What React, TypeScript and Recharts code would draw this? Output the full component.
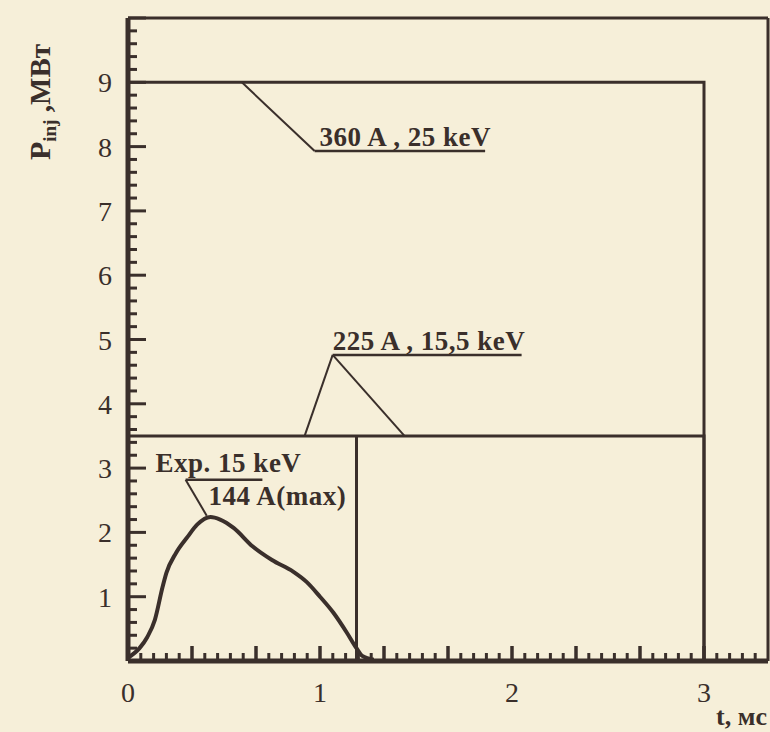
import React from 'react';
import { LineChart, Line, XAxis, YAxis, ReferenceLine } from 'recharts';

// experimental power trace, Exp. 15 keV / 144 A(max)
const expTime = [0, 0.06, 0.1, 0.14, 0.18, 0.2, 0.25, 0.31, 0.36, 0.43, 0.48, 0.55, 0.65, 0.75, 0.86, 0.93, 1.0, 1.07, 1.14, 1.19, 1.22, 1.28];
const expPower = [0.05, 0.2, 0.37, 0.64, 1.15, 1.37, 1.68, 1.93, 2.12, 2.24, 2.2, 2.07, 1.78, 1.57, 1.39, 1.23, 1.0, 0.75, 0.44, 0.2, 0.08, 0.02];

// rectangular pulses (ms, MW)
const pulseTime = [0, 3, 3];
const pulse360 = [9, 9, 0];
const pulse225 = [3.5, 3.5, 0];
const expEndTime = [1.19, 1.19];
const expEndPower = [3.5, 0];

const xLabels = [0, 1, 2, 3];
const yLabels = [1, 2, 3, 4, 5, 6, 7, 8, 9];

const ink = '#3a2f2b';
const paper = '#f6efd9';
const font = '"Liberation Serif", "Times New Roman", serif';

const expData = expTime.map((t, i) => ({ t, p: expPower[i] }));
const data360 = pulseTime.map((t, i) => ({ t, p: pulse360[i] }));
const data225 = pulseTime.map((t, i) => ({ t, p: pulse225[i] }));
const dataExpEnd = expEndTime.map((t, i) => ({ t, p: expEndPower[i] }));

// inward tick marks: x every 1/15 ms (long every 1/3), y every 0.2 MW (long every 1)
const xTickPos = Array.from({ length: 50 }, (_, i) => i / 15);
const yTickPos = Array.from({ length: 51 }, (_, i) => i / 5);
const pxPerMs = 640 / (10 / 3);
const pxPerMW = 643 / 10;

const XLabelTick = (props: any) => {
  const { x, y, payload } = props;
  if (!xLabels.includes(payload.value)) return <g />;
  return (
    <text x={x} y={y + 41} textAnchor="middle" fontSize={28} fontFamily={font} fill={ink}>{payload.value}</text>
  );
};

const YLabelTick = (props: any) => {
  const { x, y, payload } = props;
  if (!yLabels.includes(payload.value)) return <g />;
  return (
    <text x={x - 16} y={y + 10} textAnchor="end" fontSize={28} fontFamily={font} fill={ink}>{payload.value}</text>
  );
};

const note = (lines: { text: string; dx: number; dy: number }[]) => (props: any) => {
  const vb = props.viewBox || {};
  return (
    <g>
      {lines.map((l) => (
        <text key={l.text} x={vb.x + l.dx} y={vb.y + l.dy} fontSize={27} letterSpacing={0.5} fontWeight="bold" fontFamily={font} fill={ink}>
          {l.text}
        </text>
      ))}
    </g>
  );
};

const yLabel = () => (
  <text x={50} y={160} transform="rotate(-90, 50, 160)" fontSize={30} fontWeight="bold" fontFamily={font} fill={ink}>
    P<tspan fontSize={19} dy={6}>inj</tspan><tspan fontSize={29} dy={-6}> ,МВт</tspan>
  </text>
);

const xLabel = () => (
  <text x={767} y={725} textAnchor="end" fontSize={26} fontWeight="bold" fontFamily={font} fill={ink}>t, мс</text>
);

export default function App() {
  return (
    <div style={{ position: 'absolute', left: 0, top: 0, width: 770, height: 732, background: paper }}>
      <LineChart width={770} height={732} margin={{ top: 18, right: 2, bottom: 0, left: 0 }}>
        <XAxis
          dataKey="t"
          type="number"
          domain={[0, 10 / 3]}
          ticks={xLabels}
          interval={0}
          height={71}
          tickSize={0}
          tickMargin={0}
          tickLine={false}
          tick={<XLabelTick />}
          axisLine={{ stroke: ink, strokeWidth: 5 }}
          label={{ content: xLabel }}
        />
        <YAxis
          type="number"
          domain={[0, 10]}
          ticks={yLabels}
          interval={0}
          width={128}
          tickSize={0}
          tickMargin={0}
          tickLine={false}
          tick={<YLabelTick />}
          axisLine={{ stroke: ink, strokeWidth: 5 }}
          label={{ content: yLabel }}
        />
        <ReferenceLine y={10} stroke={ink} strokeWidth={3} />
        <ReferenceLine x={10 / 3} stroke={ink} strokeWidth={3} />

        {xTickPos.map((t, i) => (
          <ReferenceLine
            key={`xt${i}`}
            segment={[{ x: t, y: 0 }, { x: t, y: (i % 5 === 0 ? 15 : 8) / pxPerMW }]}
            stroke={ink}
            strokeWidth={i % 5 === 0 ? 3.5 : 3}
          />
        ))}
        {yTickPos.map((v, i) => (
          <ReferenceLine
            key={`yt${i}`}
            segment={[{ x: 0, y: v }, { x: (i % 5 === 0 ? 18 : 9) / pxPerMs, y: v }]}
            stroke={ink}
            strokeWidth={3}
          />
        ))}

        <Line data={data360} dataKey="p" type="linear" stroke={ink} strokeWidth={3} dot={false} isAnimationActive={false} />
        <Line data={data225} dataKey="p" type="linear" stroke={ink} strokeWidth={3} dot={false} isAnimationActive={false} />
        <Line data={dataExpEnd} dataKey="p" type="linear" stroke={ink} strokeWidth={3} dot={false} isAnimationActive={false} />
        <Line data={expData} dataKey="p" type="monotone" stroke={ink} strokeWidth={4} dot={false} isAnimationActive={false} />

        <ReferenceLine segment={[{ x: 0.593, y: 9 }, { x: 0.972, y: 7.93 }]} stroke={ink} strokeWidth={2} />
        <ReferenceLine
          segment={[{ x: 0.972, y: 7.93 }, { x: 1.86, y: 7.93 }]}
          stroke={ink}
          strokeWidth={2.5}
          label={{ content: note([{ text: '360 A , 25 keV', dx: 5, dy: -5 }]) }}
        />

        <ReferenceLine segment={[{ x: 0.92, y: 3.5 }, { x: 1.066, y: 4.76 }]} stroke={ink} strokeWidth={2} />
        <ReferenceLine segment={[{ x: 1.066, y: 4.76 }, { x: 1.44, y: 3.5 }]} stroke={ink} strokeWidth={2} />
        <ReferenceLine
          segment={[{ x: 1.066, y: 4.76 }, { x: 2.05, y: 4.76 }]}
          stroke={ink}
          strokeWidth={2.5}
          label={{ content: note([{ text: '225 A , 15,5 keV', dx: 0, dy: -5 }]) }}
        />

        <ReferenceLine segment={[{ x: 0.3, y: 2.82 }, { x: 0.41, y: 2.26 }]} stroke={ink} strokeWidth={2} />
        <ReferenceLine
          segment={[{ x: 0.3, y: 2.82 }, { x: 0.7, y: 2.82 }]}
          stroke={ink}
          strokeWidth={2.5}
          label={{
            content: note([
              { text: 'Exp. 15 keV', dx: -30, dy: -8 },
              { text: '144 A(max)', dx: 23, dy: 25 },
            ]),
          }}
        />
      </LineChart>
    </div>
  );
}
